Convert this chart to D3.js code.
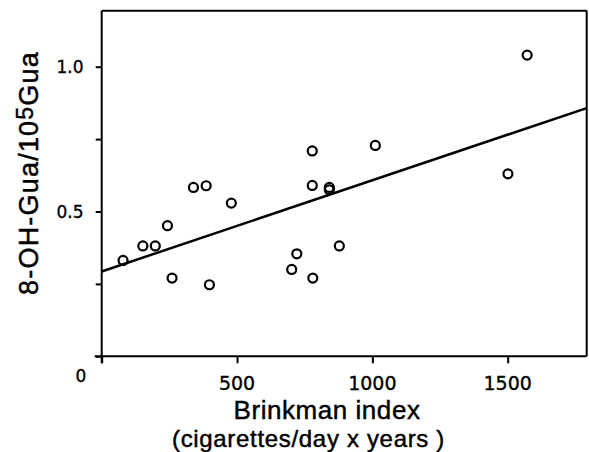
<!DOCTYPE html>
<html>
<head>
<meta charset="utf-8">
<script src="https://cdn.jsdelivr.net/npm/d3@7"></script>
<style>
  html, body { margin: 0; padding: 0; background: #fff; }
  svg { display: block; }
</style>
</head>
<body>
<svg id="chart" width="589" height="452"></svg>
<script>
// Brinkman index (cigarettes/day x years)
const brinkman = [79, 152, 198, 243, 260, 339, 386, 398, 479, 702, 721, 780, 878, 778, 778, 841, 841, 1011, 1501, 1572];
// 8-OH-Gua / 10^5 Gua
const ohGua = [0.331, 0.381, 0.381, 0.451, 0.270, 0.583, 0.589, 0.247, 0.529, 0.300, 0.354, 0.270, 0.381, 0.709, 0.590, 0.583, 0.575, 0.728, 0.630, 1.040];
// regression line end points
const fitX = [0, 1792];
const fitY = [0.293, 0.857];
const xTicks = [500, 1000, 1500];
const xTickLabels = ["500", "1000", "1500"];
const yTicks = [0.5, 1.0];
const yTickLabels = ["0.5", "1.0"];
const yMinorTicks = [0.25, 0.75];

const svg = d3.select("#chart");
const pLeft = 101.7, pRight = 586.7, pTop = 10.7, pBottom = 356.3;

const x = d3.scaleLinear().domain([0, 1792]).range([pLeft, pRight]);
const y = d3.scaleLinear().domain([0, 1.0]).range([pBottom, 66.7]);

// frame top and right
svg.append("line").attr("x1", pLeft).attr("x2", pRight).attr("y1", pTop).attr("y2", pTop)
  .attr("stroke", "#000").attr("stroke-width", 2);
svg.append("line").attr("x1", pRight).attr("x2", pRight).attr("y1", pTop).attr("y2", pBottom)
  .attr("stroke", "#000").attr("stroke-width", 2);

// x axis
const xAxis = d3.axisBottom(x).tickValues([0].concat(xTicks)).tickSize(7).tickFormat("").tickSizeOuter(0);
const gx = svg.append("g").attr("transform", `translate(0,${pBottom})`).call(xAxis);
gx.select(".domain").attr("stroke-width", 2).attr("d", `M${pLeft - 7},0H${pRight}`);
gx.selectAll(".tick line").attr("stroke-width", 2);

// y axis
const yAxis = d3.axisLeft(y).tickValues([0].concat(yMinorTicks, yTicks)).tickSize(6).tickFormat("").tickSizeOuter(0);
const gy = svg.append("g").attr("transform", `translate(${pLeft},0)`).call(yAxis);
gy.select(".domain").attr("stroke-width", 2).attr("d", `M0,${pTop}V${pBottom + 7}`);
gy.selectAll(".tick line").attr("stroke-width", 2);

// tick labels
const tickFont = "DejaVu Sans, sans-serif";
svg.append("g").selectAll("text").data(xTicks).join("text")
  .attr("x", d => x(d)).attr("y", 390)
  .attr("text-anchor", "middle")
  .attr("font-family", tickFont).attr("font-size", 19)
  .attr("stroke", "#000").attr("stroke-width", 0.35)
  .text((d, i) => xTickLabels[i]);
svg.append("g").selectAll("text").data(yTicks).join("text")
  .attr("x", 83.5).attr("y", d => y(d) + 6.5)
  .attr("text-anchor", "end")
  .attr("font-family", tickFont).attr("font-size", 17)
  .attr("stroke", "#000").attr("stroke-width", 0.35)
  .text((d, i) => yTickLabels[i]);
svg.append("text").attr("x", 81).attr("y", 381.7).attr("text-anchor", "middle")
  .attr("font-family", tickFont).attr("font-size", 17)
  .attr("stroke", "#000").attr("stroke-width", 0.35).text("0");

// regression line
svg.append("line")
  .attr("x1", x(fitX[0])).attr("y1", y(fitY[0]))
  .attr("x2", x(fitX[1])).attr("y2", y(fitY[1]))
  .attr("stroke", "#000").attr("stroke-width", 2.5);

// points
svg.append("g").selectAll("circle").data(brinkman).join("circle")
  .attr("cx", d => x(d)).attr("cy", (d, i) => y(ohGua[i]))
  .attr("r", 4.5).attr("fill", "none").attr("stroke", "#000").attr("stroke-width", 2.2);

// axis titles
const titleFont = "Liberation Sans, Arial, sans-serif";
svg.append("text").attr("x", 327).attr("y", 418.5)
  .attr("text-anchor", "middle")
  .attr("font-family", titleFont).attr("font-size", 26)
  .attr("letter-spacing", 0.55)
  .attr("stroke", "#000").attr("stroke-width", 0.45)
  .text("Brinkman index");
svg.append("text").attr("x", 308.5).attr("y", 446.5)
  .attr("text-anchor", "middle")
  .attr("font-family", titleFont).attr("font-size", 24)
  .attr("letter-spacing", 0.68)
  .attr("stroke", "#000").attr("stroke-width", 0.45)
  .text("(cigarettes/day x years )");

const yt = svg.append("text")
  .attr("transform", "translate(37.5,173) rotate(-90)")
  .attr("text-anchor", "middle")
  .attr("font-family", titleFont).attr("font-size", 27)
  .attr("letter-spacing", 1.2)
  .attr("stroke", "#000").attr("stroke-width", 0.45);
yt.append("tspan").text("8-OH-Gua/10");
yt.append("tspan").attr("dy", -5).attr("font-size", 23).text("5");
yt.append("tspan").attr("dy", 5).text("Gua");
</script>
</body>
</html>
